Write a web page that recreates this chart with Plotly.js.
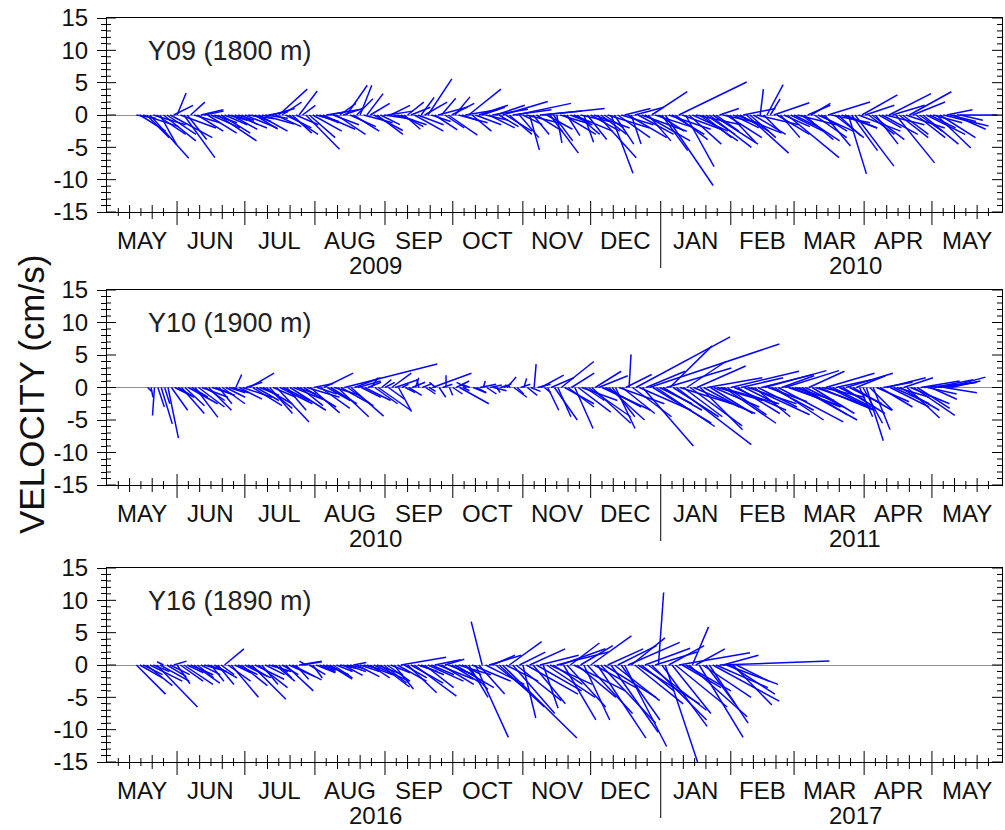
<!DOCTYPE html>
<html><head><meta charset="utf-8">
<script src="https://cdn.plot.ly/plotly-3.0.1.min.js"></script>
<style>html,body{margin:0;padding:0;background:#fff;}#chart{width:1005px;height:830px;}</style>
</head><body><div id="chart"></div>
<script>
// ---------------- data ----------------
const MONTH_NAMES = ['JAN','FEB','MAR','APR','MAY','JUN','JUL','AUG','SEP','OCT','NOV','DEC'];
const Y_TICK_VALUES = [-15,-10,-5,0,5,10,15];
const Y_TICK_TEXT = ['-15','-10','-5','0','5','10','15'];
const STEP_DAYS = 3;

// Y09 (1800 m): u = east, v = north (cm/s); two interleaved 3-day series
const Y09_START = '2009-05-14T00:00Z';
const Y09_U = [3.0,5.5,6.0,4.5,5.0,6.5,1.4,4.8,2.2,4.0,3.0,4.5,6.0,3.5,4.0,2.5,5.0,3.0,4.5,3.5,
 3.5,4.4,4.0,3.0,2.8,5.2,4.5,3.0,5.0,4.0,2.5,3.2,4.0,1.8,2.5,4.5,3.0,4.0,3.0,3.5,
 2.5,4.5,2.0,3.7,3.5,2.2,4.5,2.3,3.0,5.0,4.0,3.5,4.0,4.5,7.0,3.5,8.5,3.0,1.5,4.0,
 9.5,4.4,0.8,5.0,3.0,3.5,1.5,4.5,6.0,3.0,3.4,5.0,4.0,1.5,5.5,7.0,5.5,4.0,7.4,5.0,
 10.5,4.4,5.5,6.0,4.5,7.0,3.0,5.5,4.0,4.5,6.5,5.0,0.5,2.5,5.5,3.0,8.0,4.0,6.0,3.5,
 5.0,4.0,6.5,4.5,5.5,2.8,6.0,5.5,4.0,3.5,5.5,6.5,6.0,4.0,6.5,4.5,5.5,4.0,5.3,7.0,
 4.0,6.3];
const Y09_V = [-0.5,-1.8,-6.7,-3.0,-4.0,-3.5,3.4,-6.6,2.0,-2.5,0.6,-2.0,-4.0,-1.5,-2.2,-0.8,-2.0,-1.0,-2.5,-0.5,
 1.0,4.0,-2.0,-2.8,3.7,-5.3,-2.5,-1.2,0.8,-1.5,1.8,4.6,-2.5,4.6,3.3,-2.4,-1.5,0.6,-0.8,-1.8,
 2.0,-2.5,2.7,5.6,-2.3,2.6,-3.1,2.8,-1.0,4.0,-1.5,1.2,-2.0,1.5,2.1,-3.0,1.8,-1.5,-5.4,-2.5,
 1.0,-5.9,-4.3,-3.0,-1.2,-3.0,-4.2,-2.5,-6.6,-2.0,-9.0,-3.5,1.0,-4.5,-3.0,-4.0,3.6,-2.5,-10.9,-3.0,
 5.1,-8.0,-2.5,-4.0,-3.0,-4.5,1.0,-3.5,-2.0,-2.5,-5.9,-3.0,4.0,4.7,1.9,-3.5,-6.6,-2.0,-4.0,1.5,
 -3.5,-2.5,2.0,-3.5,-2.0,-9.1,-7.9,3.1,-3.0,-4.5,-3.0,3.3,-7.4,-3.0,3.6,-3.5,-4.5,-2.0,-5.1,-1.7,
 -1.0,0.0];
const Y09_START_MID = '2009-05-15T12:00Z';
const Y09_U_MID = [4,3.5,5,2.5,4.5,3,5.5,3,4,3.5,4.5, 3.5,4.5,3,5,2.5,4,3.5,5,3,4,
 3,4.5,3.5,2,4,3.5,5,3,4.5, 3,4,2.5,4.5,3,4,3.5,3,4.5,2.5,
 3,4,3.5,3,4.5,3,3.5,4.5,5,3,4.5,3.5,5.5,3, 4,6,3,5,2.5,6.5,4,3,5,2,6,4.5,3,5.5,
 4,6.5,3,5,6,4.5,7,3.5,5.5,4,6.5,5, 6,5,7,4.5,6.5,3.5,5.5,4,7,5,4,6.5,2.5,1.5,5,4,
 5,6,4.5,3,5.5,4,6,3.5,5,4,6.5,4.5,5,3.5,6, 5,4.5,6,5,3.5,6,4.5,5.5,4,5,3.5];
const Y09_V_MID = [-2.5,-3.5,-1.5,-4.5,-3.0,1.5,-2.0,-3.8,-1.2,0.8,-2.8, -1.2,-2.8,-0.8,-2,-1.5,-0.6,-2.2,-1.4,0.5,-1.8,
 2.0,-3,-1.5,1.5,-3.5,-1.0,-2.2,0.6,-3.0, 1.0,-1.8,2.5,-1.2,1.8,-3.0,-0.5,1.5,-1.5,-2.2,
 1.2,-1.5,2.0,-1.0,1.2,-2.0,1.8,-1.2,0.8,-2.5,1.5,-0.8,0.9,-1.8, -2.5,0.8,-3.5,-1.2,-3,0.6,-2.2,-4,-1.5,-3.2,-2.5,-1.0,-3.8,-2,
 -3,-2,-4.5,-1.5,-3.5,1.2,-2.5,-4,-1.8,-5.5,-2.2,-3.8, -2.2,-4.5,-1.5,-3.5,-5,-2.5,-1.2,-4.2,-2.8,1.0,-3.5,-1.5,-2.5,2.5,-3,-1.8,
 -2.5,-1.5,-3.8,1.8,-2.5,-4.8,-1.2,-3.2,-2,-5.5,-2.5,1.5,-3.8,-2.0,-1.5, 1.5,-3.5,-2,2.0,-2.5,-3,-1.2,-3.5,0.8,-2.2,-0.8];

// Y10 (1900 m)
const Y10_START = '2010-05-19T00:00Z';
const Y10_U = [0.6,-0.3,1.7,1.6,3.0,3.5,4.5,3.5,4.0,3.5,2.5,3.5,2.5,0.9,4.5,3.8,3.5,4.5,3.5,5.0,
 4.0,5.5,3.0,5.0,4.5,3.0,4.5,4.0,4.8,14.3,5.0,3.5,4.0,1.0,5.0,1.5,3.0,2.0,1.5,2.0,
 -0.3,1.5,6.0,1.0,0.0,1.5,4.5,-1.5,2.0,2.5,1.5,2.0,1.0,1.4,2.0,1.5,1.5,0.3,3.5,1.7,
 3.5,5.0,4.0,2.8,5.5,6.5,4.0,7.5,5.5,3.0,5.0,0.3,14.5,7.8,20.0,9.0,6.0,6.5,11.5,6.0,
 8.0,7.5,5.5,6.5,7.0,8.0,10.5,6.5,5.0,9.0,6.0,9.5,6.5,10.0,8.3,7.5,9.0,5.0,6.5,8.5,
 7.5,6.0,4.0,7.2,6.0,2.0,2.6,2.6,5.0,6.0,5.5,6.0,5.0,6.3,6.0,4.5,6.0,5.5,5.8];
const Y10_V = [-0.6,-4.3,-5.6,-7.8,-1.5,-4.0,-2.5,-4.6,-1.5,-3.5,-1.0,-2.5,-0.8,2.0,-1.5,2.2,-2.0,-2.5,-4.0,-5.3,
 -2.0,-3.5,-1.0,-3.0,-3.9,-1.0,2.2,-2.5,-4.5,3.6,-4.4,1.0,-2.0,1.5,-3.5,0.8,2.2,-3.7,-0.8,0.8,
 1.3,-1.0,2.2,-1.5,1.9,-1.0,-2.5,0.8,-0.8,0.5,-1.0,-0.5,0.3,1.6,-1.5,0.5,-1.2,3.6,1.9,-3.5,
 -5.0,4.0,-3.0,-6.3,-2.0,-4.5,2.5,-3.5,-5.0,-6.3,-4.0,5.1,7.8,-9.0,6.7,-6.0,-3.5,6.4,-8.8,-4.5,
 -5.9,3.3,-3.0,-4.0,-2.0,-5.5,2.5,-4.0,-2.5,-4.2,-3.0,2.6,-3.5,-5.3,2.6,-3.0,-5.0,-2.5,-4.0,-3.5,
 2.2,-3.0,-2.0,2.2,-3.5,-4.5,-8.2,-6.5,-3.0,1.5,-2.5,-3.5,-4.7,-4.3,1.0,-1.0,1.2,0.8,1.6];
const Y10_START_MID = '2010-05-20T12:00Z';
const Y10_U_MID = [0.3,1.0,0.8,2.5,2,3,2.5,4,3,3.5,2,3,2.5, 3.5,2.5,4.5,3.0,4,3.5,5,3,4.5,3.5,5,3,4.5,3.5,4,5,
 3.5,4,3,2,3.5,1.5,2.5,3.5,1,2,0.5,1.5, 1.0,-1.0,1.5,0.5,2,1,-1.2,1.5,0.3,1.8,0.5,1.2,-0.8,1,0.4,1.5,2,1.0,
 3.5,2,4.5,3.5,5,3,6,4.5,5.5,3.5,7,4,6, 8,6,9,5,10,7,8,6,9.5,6.5,8.5,7,9,6,
 8,6.5,7.5,5.5,8,6,7.5,5,8.5,6,7,5.5,8,6.5,7,5.5,6.5,5,4.5,3, 3.5,5,4.5,6,5,4.5,6,5,5.5,4,6,5,4.5];
const Y10_V_MID = [-1.5,-3.0,-2.5,-3.5,-1.2,-2.8,-1.5,-3,-2,-1.2,-2.5,-1.5,-0.8, -1.8,0.8,-2.8,-1.2,-3.2,-1.5,-2.5,-3.5,-1.8,-2.8,-1.5,0.6,-3.2,-2,-1.2,-2.8,
 -2.5,1.5,-1.5,0.8,-2.5,1.2,-1.8,1.2,0.5,-1.2,1.5,0.6, -0.6,0.8,0.5,-1.2,1.0,-0.5,0.5,-0.8,1.0,0.4,-0.8,0.6,0.4,-1.0,1.4,-0.6,0.5,-0.8,
 1.5,-4.5,-2.5,2.2,-3.8,-2,-5.5,1.8,-3,-4.5,-2.5,2.0,-4.5, -3.5,2.5,-5.5,-2.5,3.0,-4.5,-2.5,4.0,-4.0,-6.5,1.5,-3,-2.5,-4.2,
 -3.5,1.5,-2.5,-4.5,2.0,-2.2,-5,1.8,-3,-2,-4.2,2.5,-2.8,-1.5,-3.5,1.2,-4,-2.5,1.8,-5.5, -3.5,-2.2,0.8,-3,-1.5,1.5,-2.5,-3.2,0.5,-1.8,0.8,-0.8,1.0];

// Y16 (1890 m)
const Y16_START = '2016-05-14T00:00Z';
const Y16_U = [4.5,3.0,5.0,6.3,-1.0,3.0,2.0,4.5,3.5,2.5,3.5,2.0,2.5,3.0,4.2,3.0,4.0,5.3,4.5,3.0,
 2.5,2.0,4.3,4.5,3.5,-1.0,1.5,2.5,3.5,3.0,2.5,3.0,2.0,3.0,4.0,5.5,4.5,3.5,3.0,7.0,
 4.5,6.5,3.5,5.5,4.0,5.0,4.0,6.0,3.0,3.0,5.1,-1.7,5.0,5.0,11.5,5.0,7.0,2.0,5.5,7.0,
 2.3,6.5,8.0,5.0,4.5,6.0,4.0,6.3,7.5,8.0,7.3,6.0,6.5,5.2,9.5,7.0,8.5,0.8,5.0,6.0,
 11.0,7.0,2.5,6.8,4.5,10.3,17.0,8.0,6.0];
const Y16_V = [-4.5,-1.5,-2.5,-6.5,0.5,-1.5,-2.9,-3.0,-1.5,-2.0,-1.0,-2.5,-3.0,2.5,-5.0,-1.5,-2.0,-5.3,-3.5,-1.5,
 -1.0,-2.0,-4.0,-2.3,0.6,0.6,-2.0,-1.0,-1.5,-2.0,-0.5,-1.0,0.4,-1.0,-1.5,-2.5,-3.4,-2.5,-3.7,1.2,
 -4.3,-4.8,-1.5,-2.5,0.8,-3.0,-1.5,-3.5,-1.5,-5.0,-11.2,6.7,1.5,-4.0,-11.3,3.6,-5.5,-8.2,2.5,-4.0,
 -6.7,-3.0,2.0,-8.5,3.4,-5.0,-8.5,4.5,-11.3,-5.0,-10.4,3.0,-12.6,4.2,-6.0,2.6,-8.5,11.2,-15.0,-7.5,
 1.9,-4.0,5.9,-11.2,-6.0,-5.6,0.6,-3.0,-6.2];
const Y16_START_MID = '2016-05-15T12:00Z';
const Y16_U_MID = [3.5,4,2.5,4.5,3,2,3.5,2.5,4,3,2.5,3.5,2, 3.5,2.5,4,3,4.5,2.5,3.5,3,2.5,4,2,3,2.5,
 3,2,3.5,2.5,3,2,3.5,2.5,3,4,3.5,3,4.5, 3.5,5,3,4.5,3.5,5.5,3,4.5,5,3.5,6,
 4,6,3.5,7,5,6.5,4,8,5,6,7.5,4.5,7, 6,8,5,7,6.5,8.5,5.5,7,6,8,7.5,5,9,6.5, 7,5.5,8,6,9,4.5,7.5,6,8,5.5,7,5];
const Y16_V_MID = [-2,-3.2,-1,-2.5,-1.8,0.6,-2.5,-1.2,-2.8,-1.5,-0.8,-2,-1.5, -2.5,-1.2,-3.2,-1.8,-2.2,-3,-1,-2.5,-1.5,-1.8,-2.2,0.5,-1.5,
 -1.2,-0.8,-2.2,-1,-1.6,-0.5,-1.8,-0.6,-2,-1.5,-2.8,-1.2,-2.5, -2,-2.8,-1,-3.5,-1.5,-2.2,0.9,-2.8,-1.5,-3.8,-2.5,
 -4.5,-3,1.5,-6.5,-2.5,-7.5,2.0,-4.5,-6,1.5,-5,-3,2.5, -6.5,-4,3,-7.5,-3.5,-9,2.5,-5.5,-8.5,3.5,-6,-4,-7,2, -9.5,3,-6.5,-3.5,-8,2.5,-5,-9,-3.5,1.5,-4.5,-2.5];

// ---------------- layout geometry ----------------
const W = 1005, H = 830;
const PX_LEFT = 107, PX_RIGHT = 1002;
const FONT = 'Liberation Sans, Arial, Helvetica, sans-serif';
const DAY = 86400000;

const PANELS = [
  {name:'Y09 (1800 m)', series:[[Y09_START, Y09_U, Y09_V],[Y09_START_MID, Y09_U_MID, Y09_V_MID]], year:2009, top:18,  bottom:212},
  {name:'Y10 (1900 m)', series:[[Y10_START, Y10_U, Y10_V],[Y10_START_MID, Y10_U_MID, Y10_V_MID]], year:2010, top:290, bottom:485},
  {name:'Y16 (1890 m)', series:[[Y16_START, Y16_U, Y16_V],[Y16_START_MID, Y16_U_MID, Y16_V_MID]], year:2016, top:568, bottom:762}
];

function fmt(ms){ return new Date(ms).toISOString().replace('T',' ').slice(0,16); }

const traces = [];
const layout = {
  width: W, height: H,
  margin: {l:0, r:0, t:0, b:0},
  paper_bgcolor: '#ffffff', plot_bgcolor: '#ffffff',
  showlegend: false,
  font: {family: FONT, color: '#111'},
  shapes: [], annotations: []
};

PANELS.forEach((p, k) => {
  const suf = k === 0 ? '' : String(k + 1);
  const xa = 'x' + suf, ya = 'y' + suf;
  const rStart = Date.UTC(p.year, 4, 1);
  const rEnd = Date.UTC(p.year + 1, 5, 1);
  const spanDays = (rEnd - rStart) / DAY;
  const pxPerUnit = (p.bottom - p.top) / 30;
  const pxPerDay = (PX_RIGHT - PX_LEFT) / spanDays;
  const daysPerUnit = pxPerUnit / pxPerDay;   // equal-aspect stick scaling

  const xs = [], ys = [];
  p.series.forEach(([start, U, V]) => {
    const t0 = Date.parse(start);
    for (let i = 0; i < U.length; i++) {
      const b = t0 + i * STEP_DAYS * DAY;
      xs.push(b, b + U[i] * daysPerUnit * DAY, null);
      ys.push(0, V[i], null);
    }
  });
  traces.push({type:'scatter', mode:'lines', x:xs, y:ys, xaxis:xa, yaxis:ya,
    line:{color:'#0505ff', width:1.5}, hoverinfo:'skip', connectgaps:false});

  layout['xaxis' + suf] = {
    domain:[PX_LEFT / W, PX_RIGHT / W], anchor: ya, type:'date',
    range:[fmt(rStart), fmt(rEnd)], showline:true, mirror:true, linecolor:'#000', linewidth:1,
    ticks:'', showticklabels:false, showgrid:false, zeroline:false, fixedrange:true
  };
  layout['yaxis' + suf] = {
    domain:[1 - p.bottom / H, 1 - p.top / H], anchor: xa, range:[-15, 15],
    showline:true, mirror:true, linecolor:'#000', linewidth:1,
    tickmode:'array', tickvals:Y_TICK_VALUES, ticktext:Y_TICK_TEXT,
    ticks:'outside', ticklen:9, tickwidth:1, tickcolor:'#000',
    minor:{tickmode:'linear', tick0:0, dtick:1, ticks:'outside', ticklen:5, tickwidth:1, tickcolor:'#000', showgrid:false},
    tickfont:{size:24, color:'#111', family:FONT}, ticklabelstandoff:4,
    showgrid:false, zeroline:true, zerolinecolor:'#8f8f8f', zerolinewidth:1, fixedrange:true
  };

  for (let v = -15; v <= 15; v++) {
    const major = v % 5 === 0;
    const yy = (v + 15) / 30;
    layout.shapes.push({type:'line', xref: xa + ' domain', yref: ya + ' domain', xsizemode:'pixel', xanchor:0,
      x0:0, x1: major ? 9 : 4, y0:yy, y1:yy, line:{color:'#000', width:1}});
    layout.shapes.push({type:'line', xref: xa + ' domain', yref: ya + ' domain', xsizemode:'pixel', xanchor:1,
      x0: major ? -10 : -5, x1:0, y0:yy, y1:yy, line:{color:'#000', width:1}});
  }

  for (let m = 0; m <= 12; m++) {
    const ms0 = Date.UTC(p.year, 4 + m, 1);
    const ms1 = Date.UTC(p.year, 5 + m, 1);
    const monthIdx = new Date(ms0).getUTCMonth();
    if (m > 0) {
      layout.shapes.push({type:'line', xref: xa, yref: ya + ' domain', ysizemode:'pixel', yanchor:0,
        x0:fmt(ms0), x1:fmt(ms0), y0: monthIdx === 0 ? -56 : -13, y1:11, line:{color:'#000', width:1}});
    }
    for (let kk = 1; kk <= 5; kk++) {
      const d = ms0 + 5 * kk * DAY;
      const len = (kk % 2 === 0) ? 7 : 4;
      layout.shapes.push({type:'line', xref: xa, yref: ya + ' domain', ysizemode:'pixel', yanchor:0,
        x0:fmt(d), x1:fmt(d), y0:-len, y1:len, line:{color:'#000', width:1}});
    }
    layout.annotations.push({xref: xa, yref: ya + ' domain', x: fmt((ms0 + ms1) / 2), y:0,
      yshift:-28, xanchor:'center', yanchor:'middle', showarrow:false,
      text: MONTH_NAMES[monthIdx], font:{size:24, color:'#111', family:FONT}});
  }
  layout.annotations.push({xref: xa, yref: ya + ' domain', x: fmt(Date.UTC(p.year, 7, 28)), y:0,
    yshift:-53, xanchor:'center', yanchor:'middle', showarrow:false,
    text: String(p.year), font:{size:24, color:'#111', family:FONT}});
  layout.annotations.push({xref: xa, yref: ya + ' domain', x: fmt(Date.UTC(p.year + 1, 2, 28)), y:0,
    yshift:-53, xanchor:'center', yanchor:'middle', showarrow:false,
    text: String(p.year + 1), font:{size:24, color:'#111', family:FONT}});
  layout.annotations.push({xref:'paper', yref:'paper', x:146 / W, y:1 - (p.top + 33) / H,
    xanchor:'left', yanchor:'middle', showarrow:false, text:p.name,
    font:{size:27, color:'#222', family:FONT}});
});

layout.annotations.push({xref:'paper', yref:'paper', x:32 / W, y:1 - 395 / H,
  xanchor:'center', yanchor:'middle', showarrow:false, textangle:-90,
  text:'VELOCITY (cm/s)', font:{size:35, color:'#111', family:FONT}});

Plotly.newPlot('chart', traces, layout, {staticPlot:true, displayModeBar:false});
</script>
</body></html>
